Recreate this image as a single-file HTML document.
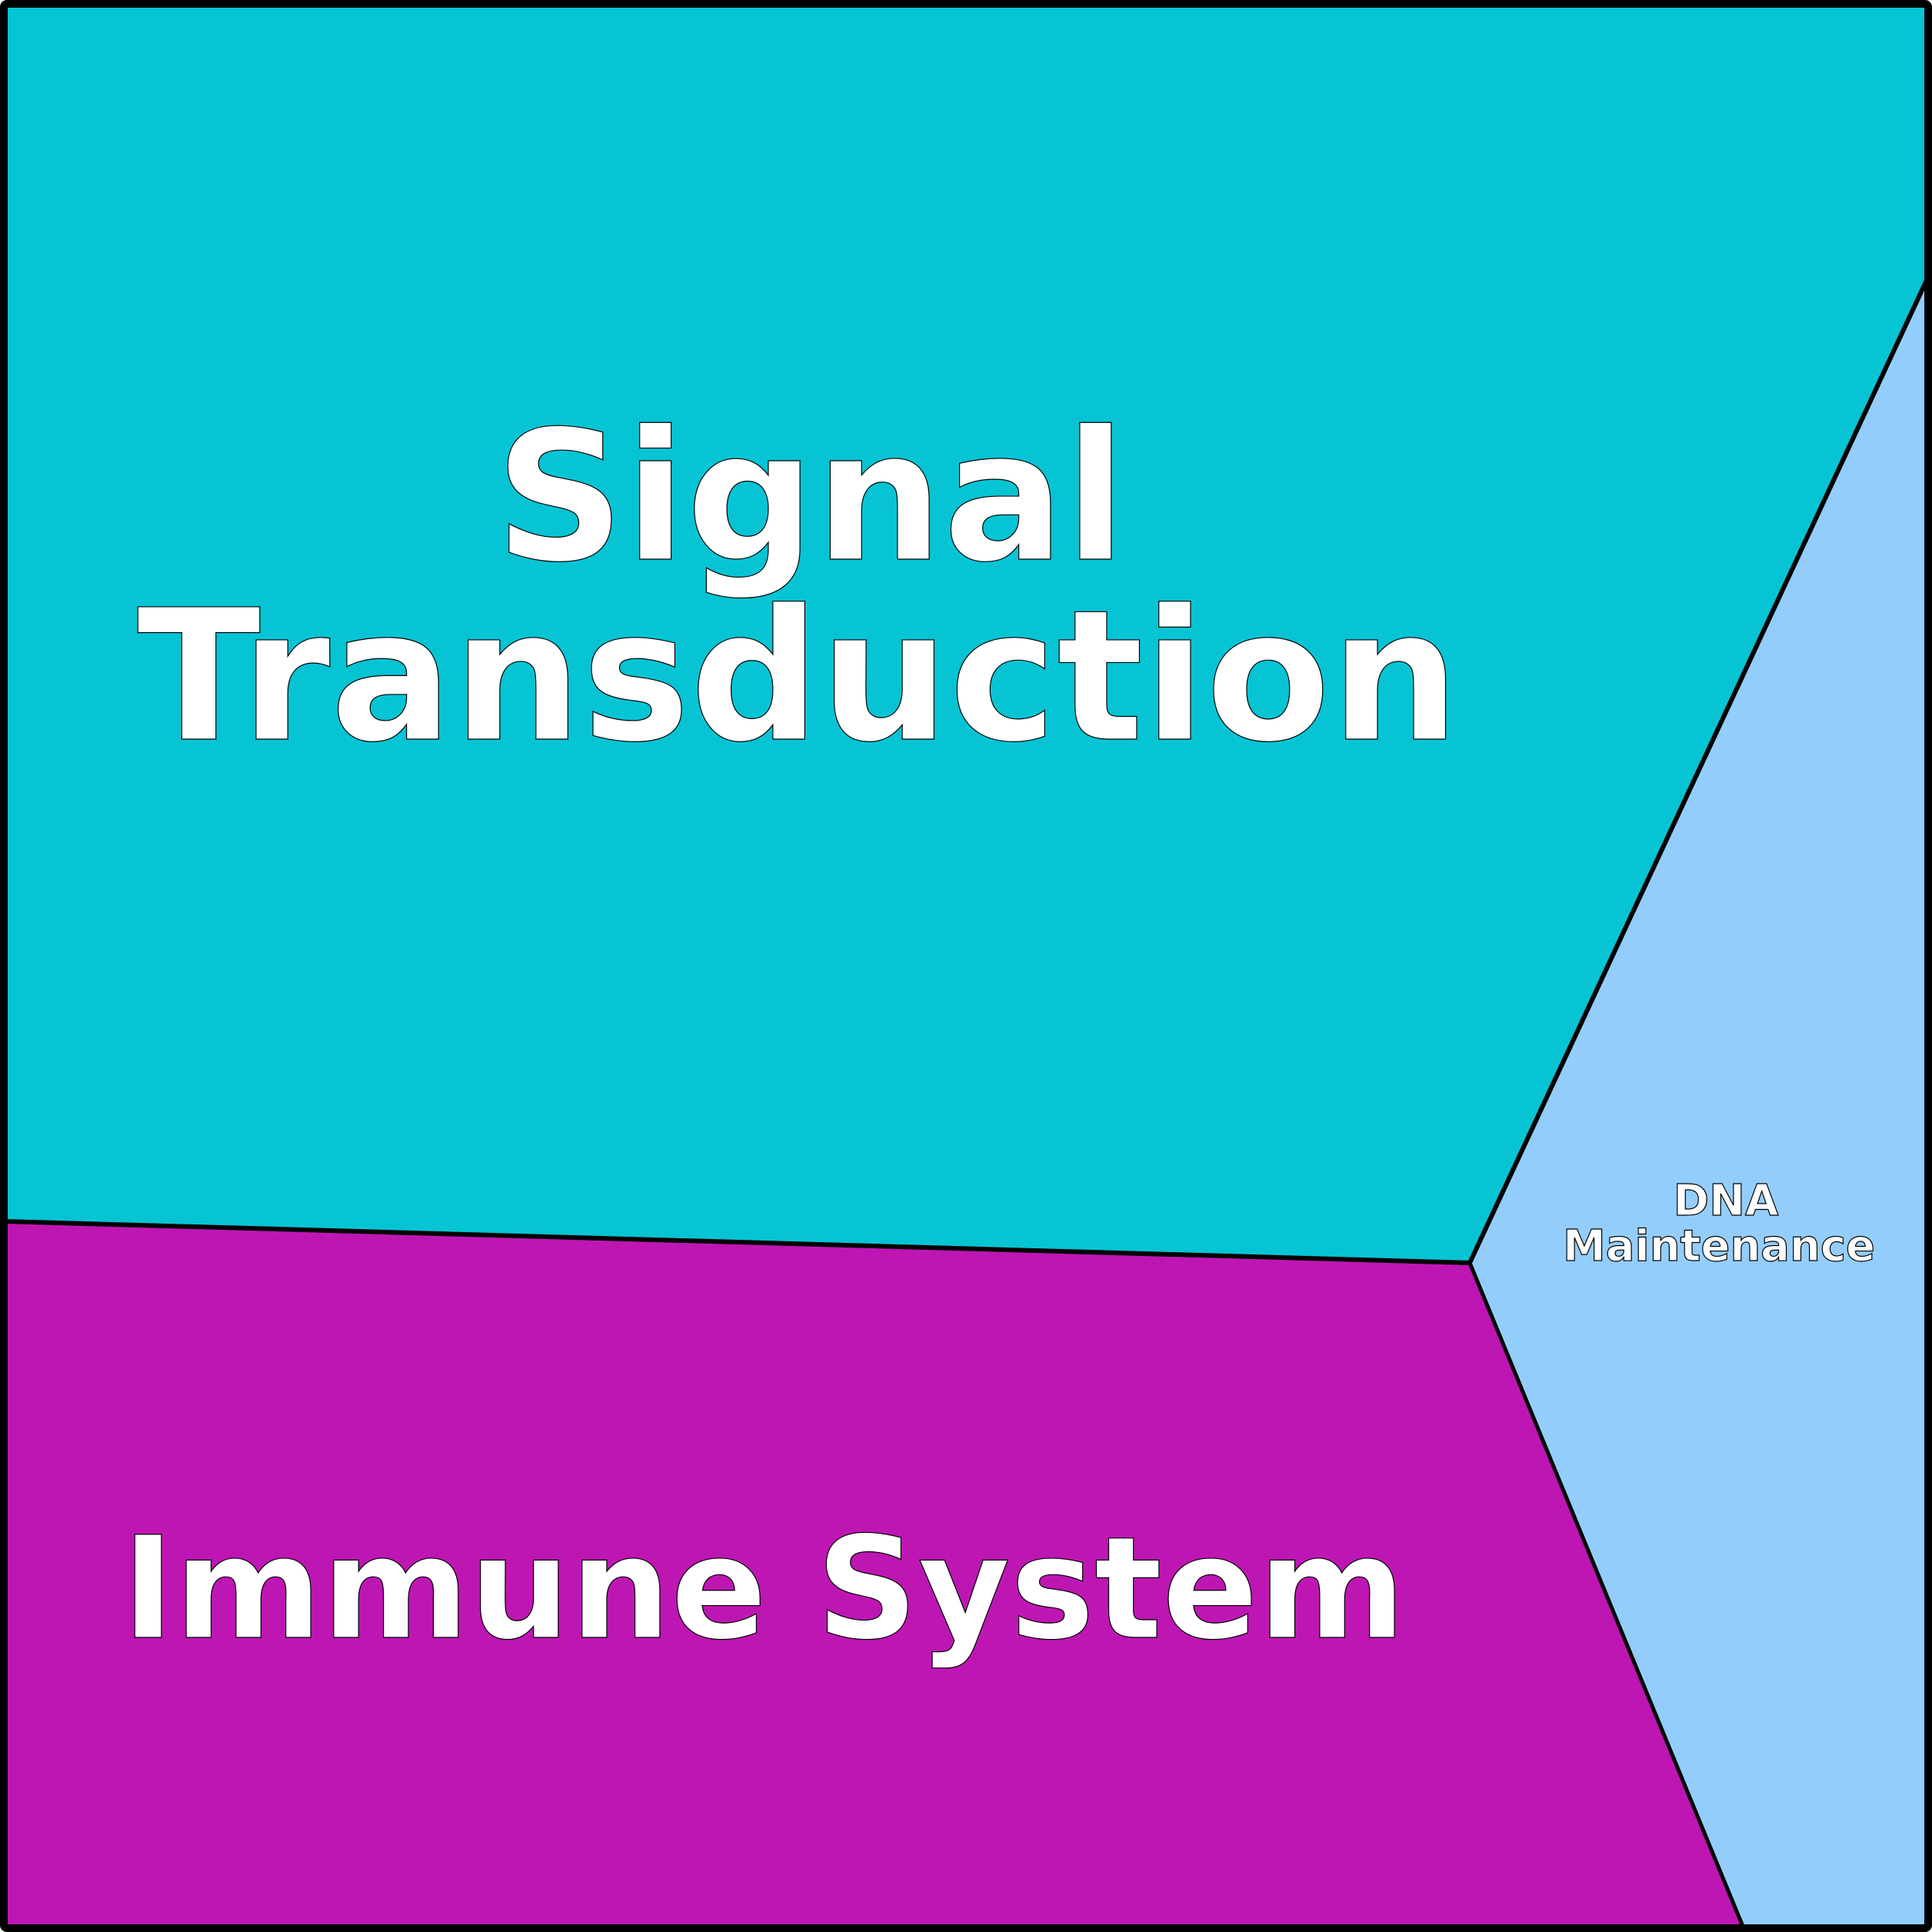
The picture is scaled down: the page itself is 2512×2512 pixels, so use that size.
<!DOCTYPE html>
<html><head><style>html,body{margin:0;padding:0;background:#fff}svg{display:block}</style></head>
<body>
<svg width="2512" height="2512" viewBox="0 0 2512 2512" xmlns="http://www.w3.org/2000/svg">
<polygon points="5,5 2507,5 2507,360 1911,1642 5,1588" fill="#06c4d4"/>
<polygon points="5,1588 1911,1642 2267,2507 5,2507" fill="#be16b3"/>
<polygon points="2507,360 2507,2507 2267,2507 1911,1642" fill="#93cdfb"/>
<polyline points="5,1588 1911,1642 2507,360" fill="none" stroke="#000" stroke-width="6"/>
<line x1="1911" y1="1642" x2="2267" y2="2507" stroke="#000" stroke-width="5"/>
<rect x="5" y="5" width="2502" height="2502" fill="none" stroke="#000" stroke-width="10" rx="4"/>
<g font-family="DejaVu Sans, sans-serif" font-weight="bold" fill="#fff" stroke="#000" stroke-width="1.2" text-anchor="middle">
<text x="1054" y="727" font-size="234">Signal</text>
<text x="1038" y="961" font-size="236">Transduction</text>
<text x="993" y="2129" font-size="184">Immune System</text>
<text x="2244" y="1580" font-size="56">DNA</text>
<text x="2235" y="1639" font-size="56">Maintenance</text>
</g>
</svg>
</body></html>
